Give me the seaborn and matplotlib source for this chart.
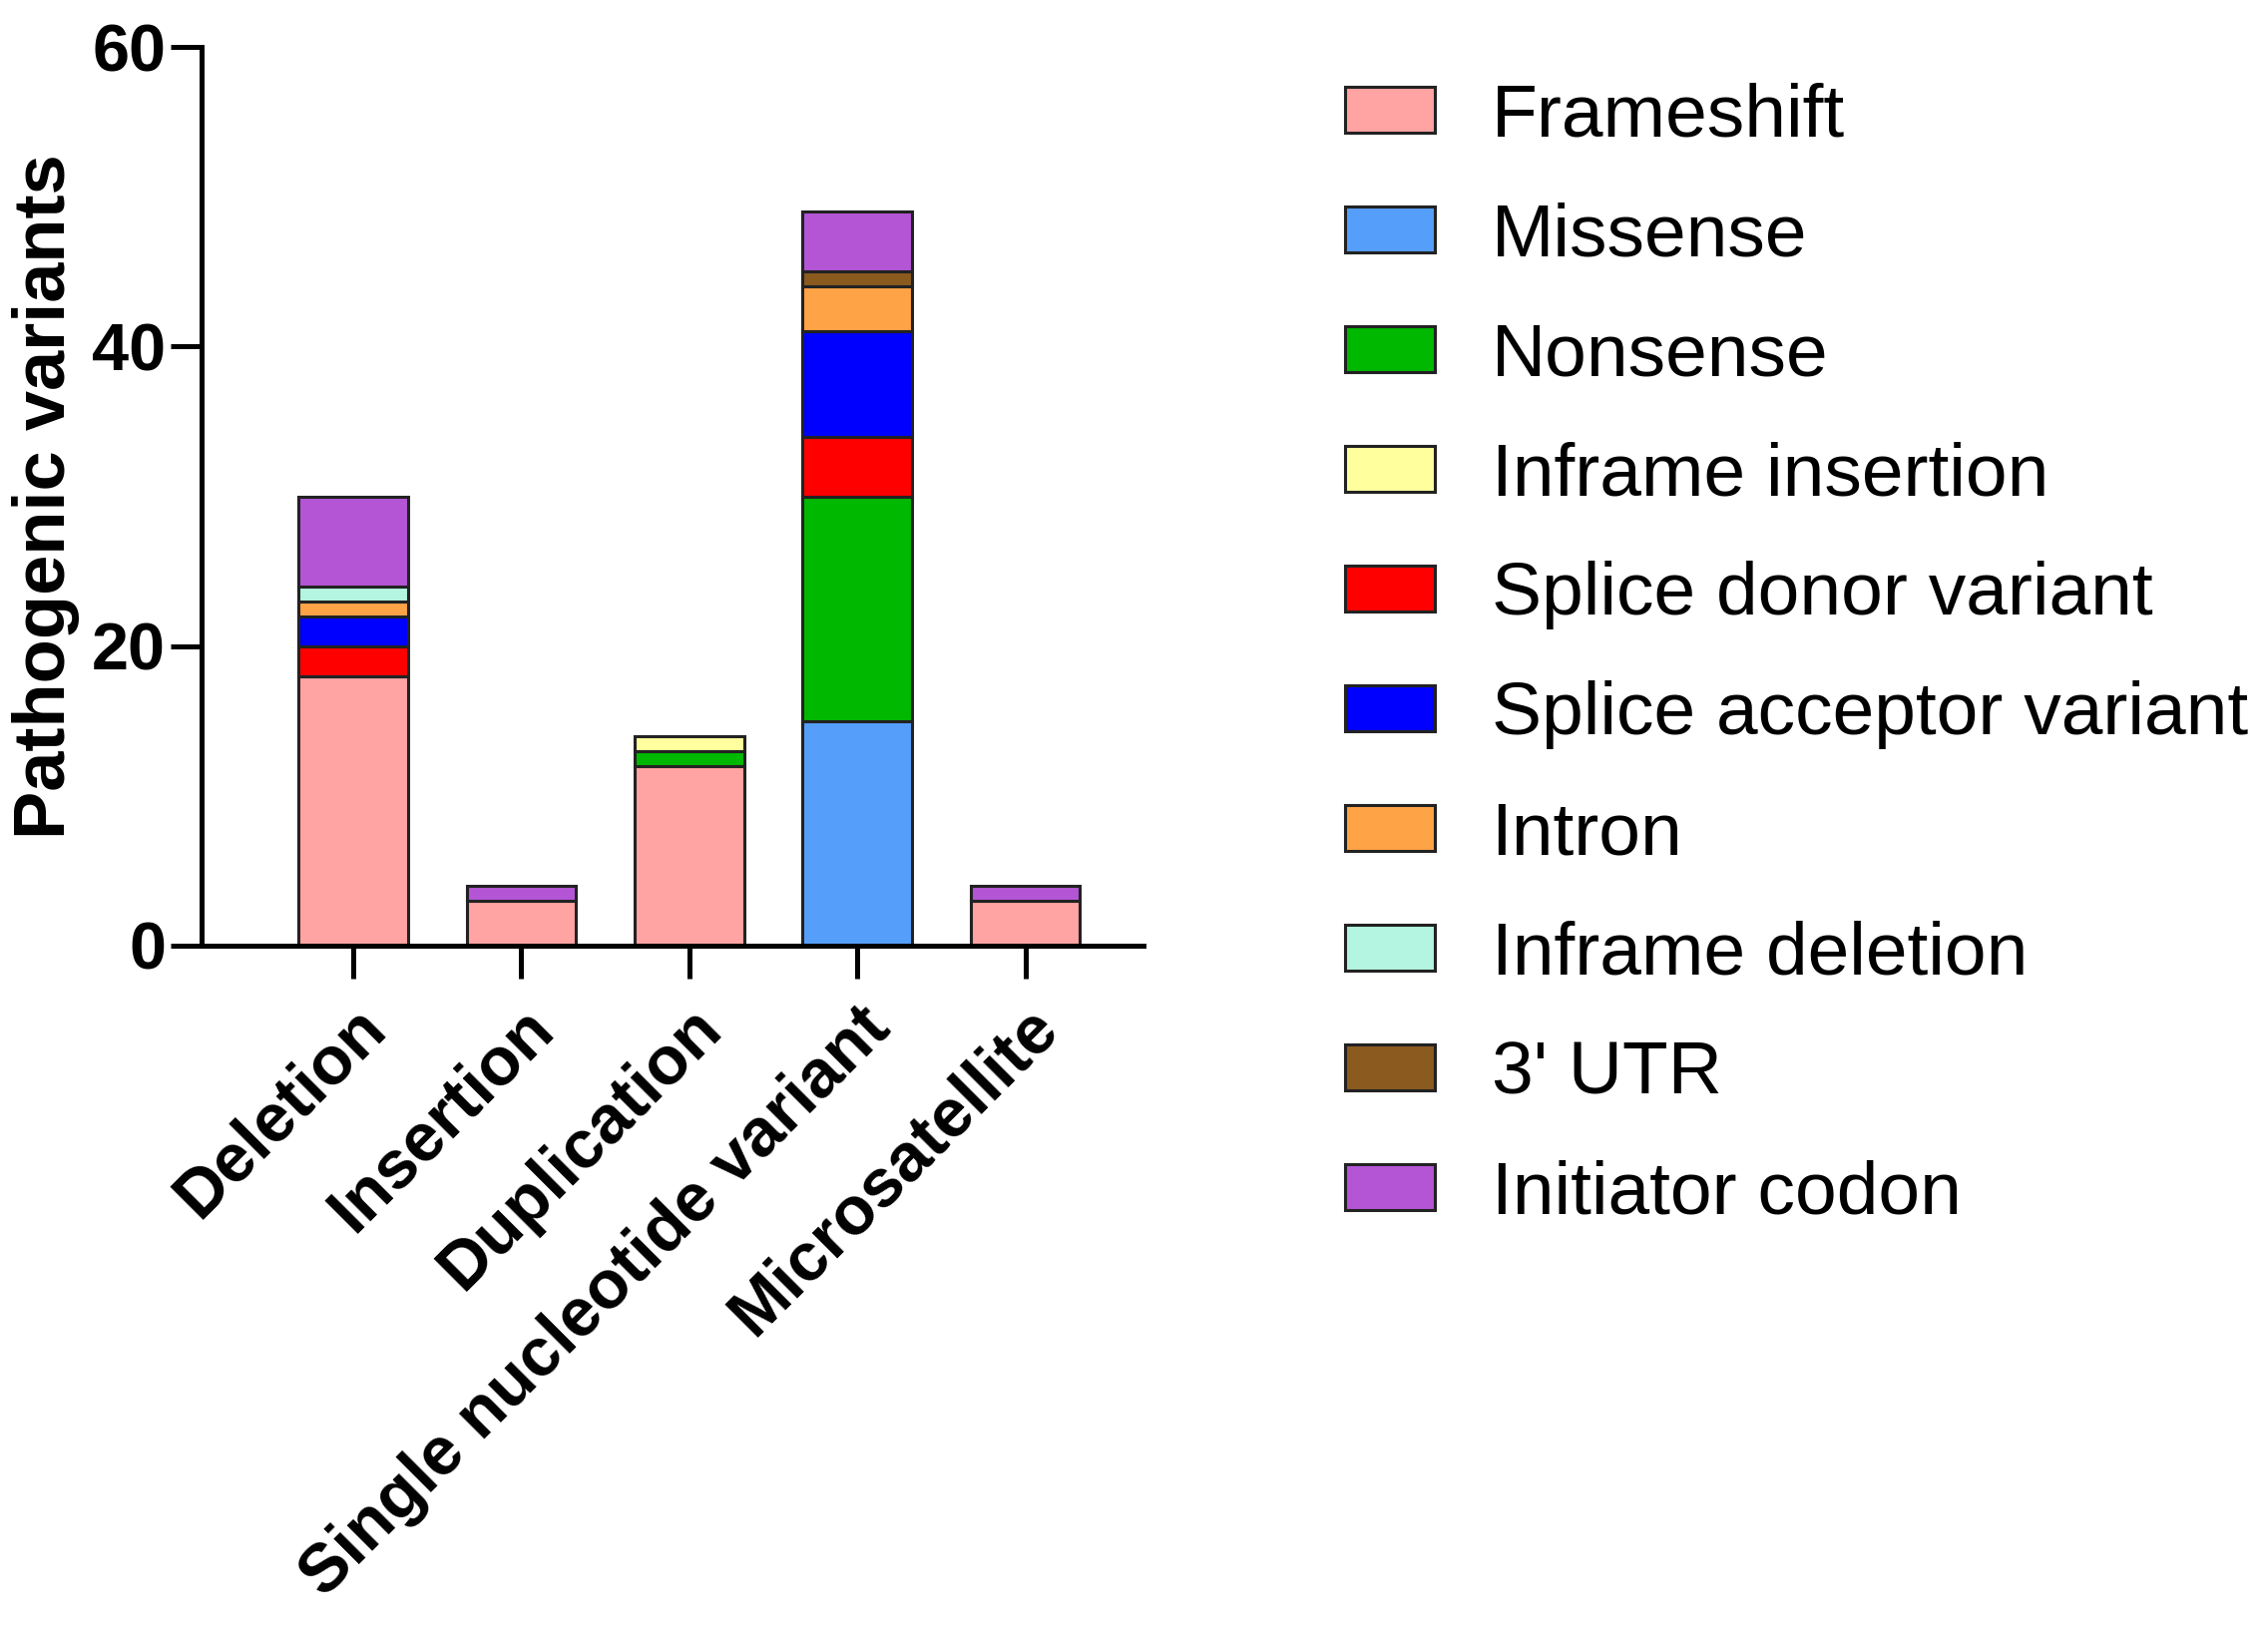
"""Stacked bar chart of pathogenic variant types by variant class."""

import matplotlib
matplotlib.use("Agg")
import matplotlib.pyplot as plt
import numpy as np
import pandas as pd
import seaborn as sns
from matplotlib.patches import Patch

variant_classes = ["Deletion", "Insertion", "Duplication",
                   "Single nucleotide variant", "Microsatellite"]

consequences = ["Frameshift", "Missense", "Nonsense", "Inframe insertion",
                "Splice donor variant", "Splice acceptor variant", "Intron",
                "Inframe deletion", "3' UTR", "Initiator codon"]

# counts per consequence, in order of variant_classes
frameshift = [18, 3, 12, 0, 3]
missense = [0, 0, 0, 15, 0]
nonsense = [0, 0, 1, 15, 0]
inframe_insertion = [0, 0, 1, 0, 0]
splice_donor = [2, 0, 0, 4, 0]
splice_acceptor = [2, 0, 0, 7, 0]
intron = [1, 0, 0, 3, 0]
inframe_deletion = [1, 0, 0, 0, 0]
utr3 = [0, 0, 0, 1, 0]
initiator_codon = [6, 1, 0, 4, 1]

colors = ["#FFA3A3", "#559FFA", "#00B800", "#FFFF9E", "#FF0000",
          "#0000FF", "#FFA347", "#B3F5E0", "#8A5A1F", "#B455D6"]

series = [frameshift, missense, nonsense, inframe_insertion, splice_donor,
          splice_acceptor, intron, inframe_deletion, utr3, initiator_codon]

df = pd.DataFrame(dict(zip(consequences, series)), index=variant_classes)

sns.set_style("ticks")
plt.rcParams["font.family"] = ["Liberation Sans", "DejaVu Sans"]
plt.rcParams["text.color"] = "black"
plt.rcParams["axes.labelcolor"] = "black"
plt.rcParams["xtick.color"] = "black"
plt.rcParams["ytick.color"] = "black"

fig = plt.figure(figsize=(22.73, 16.34), dpi=100)
ax = fig.add_axes([0.089, 0.42, 0.415, 0.551])

bottom = np.zeros(len(variant_classes))
for name, color in zip(consequences, colors):
    vals = df[name].to_numpy()
    mask = vals > 0
    sub = pd.DataFrame({"cls": df.index[mask], "n": vals[mask]})
    sns.barplot(data=sub, x="cls", y="n", order=variant_classes,
                color=color, width=0.65, bottom=bottom[mask],
                edgecolor="#222222", linewidth=2.2, saturation=1, ax=ax)
    bottom += vals

ax.set_xlim(-0.9, 4.7)
ax.set_ylim(0, 60)
ax.set_yticks([0, 20, 40, 60])
ax.set_xlabel("")
ax.set_ylabel("Pathogenic variants", fontsize=52, fontweight="bold")
ax.yaxis.set_label_coords(-0.13, 0.5)

for side in ["top", "right"]:
    ax.spines[side].set_visible(False)
for side in ["left", "bottom"]:
    ax.spines[side].set_linewidth(3.6)
    ax.spines[side].set_color("black")

ax.tick_params(axis="y", length=22, width=3.6, labelsize=48, pad=4)
ax.tick_params(axis="x", length=24, width=3.6, labelsize=49, pad=12)
for lab in ax.get_yticklabels():
    lab.set_fontweight("bold")
ax.set_xticks(range(len(variant_classes)))
ax.set_xticklabels(variant_classes, rotation=45, ha="right",
                   rotation_mode="anchor", fontweight="bold")

handles = [Patch(facecolor=c, edgecolor="#222222", linewidth=2.2)
           for c in colors]
fig.legend(handles, consequences, loc="upper left",
           bbox_to_anchor=(0.58, 0.968), frameon=False, fontsize=54,
           handlelength=1.2, handleheight=0.57, labelspacing=0.68,
           handletextpad=0.75, borderaxespad=0)

fig.savefig("out.png", dpi=100)
